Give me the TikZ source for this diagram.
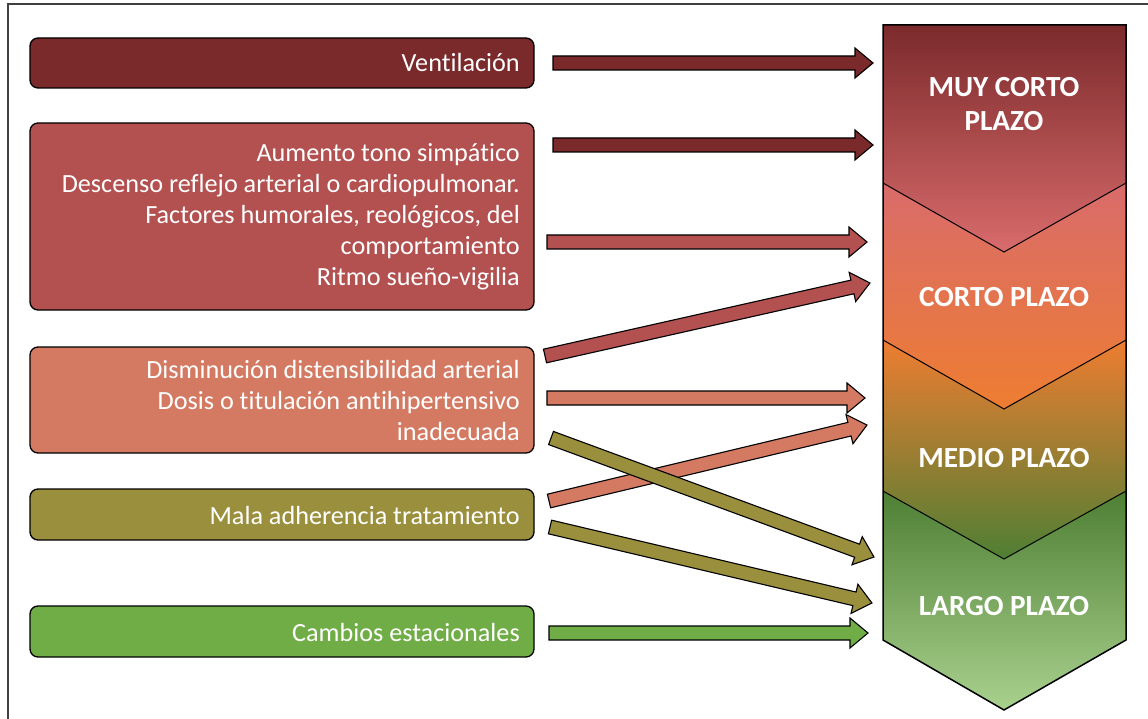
\documentclass[tikz,border=0pt]{standalone}
\usepackage{fontspec}
\setmainfont[Ligatures=NoCommon]{Carlito}
\usetikzlibrary{calc,shadings}

\definecolor{cDarkRed}{HTML}{7B2A2C}
\definecolor{cRose}{HTML}{B35050}
\definecolor{cSalmon}{HTML}{D47A62}
\definecolor{cOlive}{HTML}{9A8F3C}
\definecolor{cGreen}{HTML}{70AD47}
\definecolor{cPink}{HTML}{D96B6B}
\definecolor{cOrange}{HTML}{EE7D31}
\definecolor{cDarkGreen}{HTML}{4E7F33}
\definecolor{cLightGreen}{HTML}{A9D18E}

% block arrow from one named point to another, filled with #1
\newcommand\blockarrow[3]{%
  \pgfmathanglebetweenpoints{\pgfpointanchor{#2}{center}}{\pgfpointanchor{#3}{center}}%
  \let\baAngle\pgfmathresult
  \pgfpointdiff{\pgfpointanchor{#2}{center}}{\pgfpointanchor{#3}{center}}%
  \pgfgetlastxy{\baDx}{\baDy}%
  \pgfmathsetmacro\baLen{veclen(\baDx,\baDy)}%
  \begin{scope}[shift={(#2)}, rotate=\baAngle]
    \draw[arrowbody, fill=#1] (0pt,-7pt) -- (\baLen pt-18pt,-7pt) -- (\baLen pt-18pt,-15pt)
      -- (\baLen pt,0pt) -- (\baLen pt-18pt,15pt) -- (\baLen pt-18pt,7pt) -- (0pt,7pt) -- cycle;
  \end{scope}
}

\tikzset{
  causebox/.style={draw=black, line width=1.3pt, rounded corners=8pt},
  causetext/.style={text=white, align=right, anchor=east, font=\fontsize{26.2}{31}\selectfont, inner sep=0pt},
  arrowbody/.style={draw=black, line width=1.1pt, line join=miter},
  stagetext/.style={text=white, align=center, font=\fontsize{29.2}{34}\selectfont\bfseries, inner sep=0pt},
  stageline/.style={draw=black, line width=1pt},
}

\begin{document}
\begin{tikzpicture}[x=1pt, y=-1pt]
\useasboundingbox (0,0) rectangle (1148,719);

% page frame
\draw[line width=1.3pt, black!75] (8,719) -- (8,4) -- (1148,4);

% cause boxes
\draw[causebox, fill=cDarkRed] (30,38) rectangle (534,88);
\node[causetext] (vent) at (520,63) {Ventilación};

\draw[causebox, fill=cRose] (30,123) rectangle (534,310);
\node[causetext] (simp) at (520,217) {Aumento tono simpático\\Descenso reflejo arterial o cardiopulmonar.\\Factores humorales, reológicos, del\\comportamiento\\Ritmo sueño-vigilia};

\draw[causebox, fill=cSalmon] (30,347) rectangle (534,453);
\node[causetext] (dist) at (520,400) {Disminución distensibilidad arterial\\Dosis o titulación antihipertensivo\\inadecuada};

\draw[causebox, fill=cOlive] (30,489) rectangle (534,540);
\node[causetext] (adh) at (520,515) {Mala adherencia tratamiento};

\draw[causebox, fill=cGreen] (30,606) rectangle (534,657);
\node[causetext] (est) at (520,632) {Cambios estacionales};

% time-scale chevron column
\shade[top color=cDarkRed, bottom color=cPink]
  (883,25) -- (1126,25) -- (1126,183) -- (1004,252) -- (883,183) -- cycle;
\shade[top color=cPink, bottom color=cOrange]
  (883,183) -- (1004,252) -- (1126,183) -- (1126,340) -- (1004,409) -- (883,340) -- cycle;
\shade[top color=cOrange, bottom color=cDarkGreen]
  (883,340) -- (1004,409) -- (1126,340) -- (1126,491) -- (1004,559) -- (883,491) -- cycle;
\shade[top color=cDarkGreen, bottom color=cLightGreen]
  (883,491) -- (1004,559) -- (1126,491) -- (1126,640) -- (1004,710) -- (883,640) -- cycle;
\draw[stageline] (883,183) -- (1004,252) -- (1126,183);
\draw[stageline] (883,340) -- (1004,409) -- (1126,340);
\draw[stageline] (883,491) -- (1004,559) -- (1126,491);
\draw[line width=1.5pt, line join=miter]
  (883,25) -- (1126,25) -- (1126,640) -- (1004,710) -- (883,640) -- cycle;

\node[stagetext] (muy) at (1004,104) {MUY CORTO\\PLAZO};
\node[stagetext] (corto) at (1004,297) {CORTO PLAZO};
\node[stagetext] (medio) at (1004,458) {MEDIO PLAZO};
\node[stagetext] (largo) at (1004,606) {LARGO PLAZO};

% arrow end points
\coordinate (a1s) at (553,63);  \coordinate (a1e) at (873,63);
\coordinate (a2s) at (553,145); \coordinate (a2e) at (873,145);
\coordinate (a3s) at (547,242); \coordinate (a3e) at (867,242);
\coordinate (a4s) at (545,356); \coordinate (a4e) at (870,283);
\coordinate (a5s) at (547,398); \coordinate (a5e) at (865,398);
\coordinate (a6s) at (549,501); \coordinate (a6e) at (867,425);
\coordinate (a7s) at (551,438); \coordinate (a7e) at (874,557);
\coordinate (a8s) at (550,527); \coordinate (a8e) at (872,603);
\coordinate (a9s) at (549,633); \coordinate (a9e) at (868,633);

% arrows
\blockarrow{cDarkRed}{a1s}{a1e}
\blockarrow{cDarkRed}{a2s}{a2e}
\blockarrow{cRose}{a3s}{a3e}
\blockarrow{cRose}{a4s}{a4e}
\blockarrow{cSalmon}{a5s}{a5e}
\blockarrow{cSalmon}{a6s}{a6e}
\blockarrow{cOlive}{a7s}{a7e}
\blockarrow{cOlive}{a8s}{a8e}
\blockarrow{cGreen}{a9s}{a9e}
\end{tikzpicture}
\end{document}
